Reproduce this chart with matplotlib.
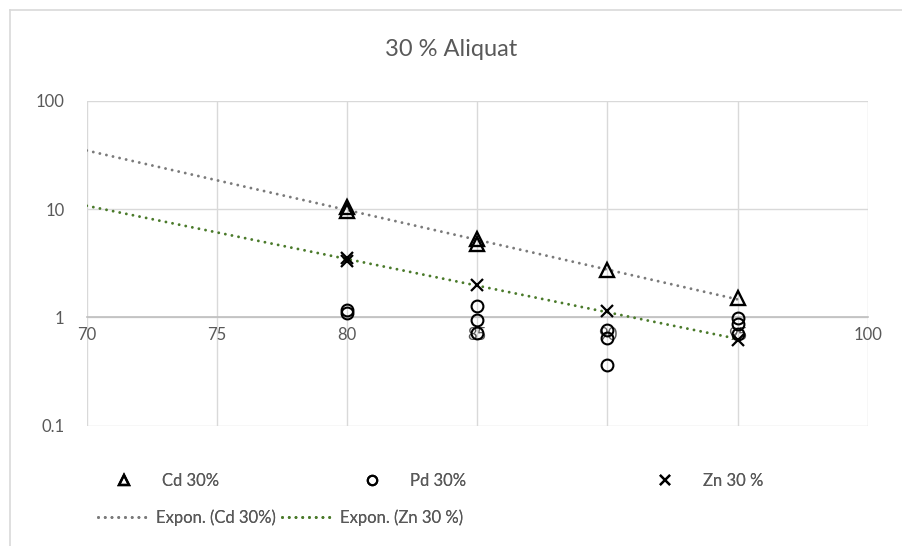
import numpy as np
import matplotlib
matplotlib.use("Agg")
import matplotlib.pyplot as plt
from matplotlib.lines import Line2D

plt.rcParams['font.family'] = ['Lato', 'DejaVu Sans']

# Temperature (x) and measured values (log-scaled y)
cd_x = [80, 80, 85, 85, 90, 95]
cd_y = [10.4, 9.6, 5.3, 4.8, 2.75, 1.5]

pd_x = [80, 80, 85, 85, 85, 90, 90, 90, 95, 95, 95]
pd_y = [1.18, 1.10, 1.26, 0.95, 0.72, 0.77, 0.65, 0.36, 0.98, 0.86, 0.70]

zn_x = [80, 80, 85, 90, 95]
zn_y = [3.55, 3.30, 2.0, 1.14, 0.62]

x_ticks = [70, 75, 80, 85, 90, 95, 100]
y_ticks = [0.1, 1, 10, 100]
y_tick_labels = ["0.1", "1", "10", "100"]

W, H = 902, 546
fig = plt.figure(figsize=(W / 100, H / 100), dpi=100)
fig.patch.set_facecolor("white")

ax_left, ax_right, ax_top, ax_bot = 86.7, 867.7, 100.7, 425.7
ax = fig.add_axes([ax_left / W, 1 - ax_bot / H,
                   (ax_right - ax_left) / W, (ax_bot - ax_top) / H])

TXT = "#595959"
GRID = "#d9d9d9"
FS = 12

ax.set_yscale("log")
ax.set_xlim(70, 100)
ax.set_ylim(0.1, 100)

ax.set_xticks(x_ticks)
ax.set_xticklabels([str(v) for v in x_ticks])
ax.set_yticks(y_ticks)
ax.set_yticklabels(y_tick_labels)
ax.yaxis.set_minor_locator(matplotlib.ticker.NullLocator())
ax.tick_params(axis="both", length=0, labelsize=FS, labelcolor=TXT)
ax.tick_params(axis="x", pad=7)
ax.tick_params(axis="y", pad=16)

ax.grid(True, which="major", color=GRID, linewidth=1.0)
ax.set_axisbelow(True)
for s in ["left", "right", "top"]:
    ax.spines[s].set_visible(False)
ax.spines["bottom"].set_position(("data", 1))
ax.spines["bottom"].set_color("#bfbfbf")
ax.spines["bottom"].set_linewidth(1.2)
ax.spines["bottom"].set_zorder(1)

# Exponential trendlines fitted on the log of the data, extended back to 70
dot_style = dict(linestyle=(0, (0.01, 2.3)), dash_capstyle="round", linewidth=2.1)
tx = np.linspace(70, 95, 200)
cd_fit = np.polyfit(cd_x, np.log(cd_y), 1)
zn_fit = np.polyfit(zn_x, np.log(zn_y), 1)
ln_cd, = ax.plot(tx, np.exp(np.polyval(cd_fit, tx)), color="#7a7a7a", zorder=2, **dot_style)
ln_zn, = ax.plot(tx, np.exp(np.polyval(zn_fit, tx)), color="#4a7a2a", zorder=2, **dot_style)

mk_cd, = ax.plot(cd_x, cd_y, linestyle="none", marker="^", markersize=9.5,
                 markerfacecolor="none", markeredgecolor="black", markeredgewidth=1.7, zorder=3)
mk_pd, = ax.plot(pd_x, pd_y, linestyle="none", marker="o", markersize=8.5,
                 markerfacecolor="none", markeredgecolor="black", markeredgewidth=1.5, zorder=3)
mk_zn, = ax.plot(zn_x, zn_y, linestyle="none", marker="x", markersize=9,
                 markeredgecolor="black", markeredgewidth=1.6, zorder=3)

# Title
fig.text(0.5, 1 - 50 / H, "30 % Aliquat", ha="center", va="center",
         fontsize=17, color=TXT)

# Legend entries placed individually (two rows)
entries = [
    (mk_cd, "Cd 30%", 98, 481, 0.7),
    (mk_pd, "Pd 30%", 346, 481, 0.7),
    (mk_zn, "Zn 30 %", 639, 481, 0.7),
    (ln_cd, "Expon. (Cd 30%)", 98, 518, 0.3),
    (ln_zn, "Expon. (Zn 30 %)", 282, 518, 0.3),
]
for h, lab, px, py, pad in entries:
    leg = fig.legend(handles=[h], labels=[lab], loc="center left",
                     bbox_to_anchor=(px / W, 1 - py / H), frameon=False,
                     borderpad=0, borderaxespad=0, handlelength=3.15,
                     handletextpad=pad, fontsize=FS, labelcolor=TXT,
                     markerscale=0.8)
    fig.add_artist(leg)

# Chart frame (top and left edges)
border = "#d9d9d9"
fig.add_artist(Line2D([10 / W, 10 / W], [0, 1 - 10 / H], transform=fig.transFigure,
                      color=border, linewidth=1.2))
fig.add_artist(Line2D([10 / W, 1], [1 - 10 / H, 1 - 10 / H], transform=fig.transFigure,
                      color=border, linewidth=1.2))

fig.savefig("out.png", dpi=100, facecolor="white")
